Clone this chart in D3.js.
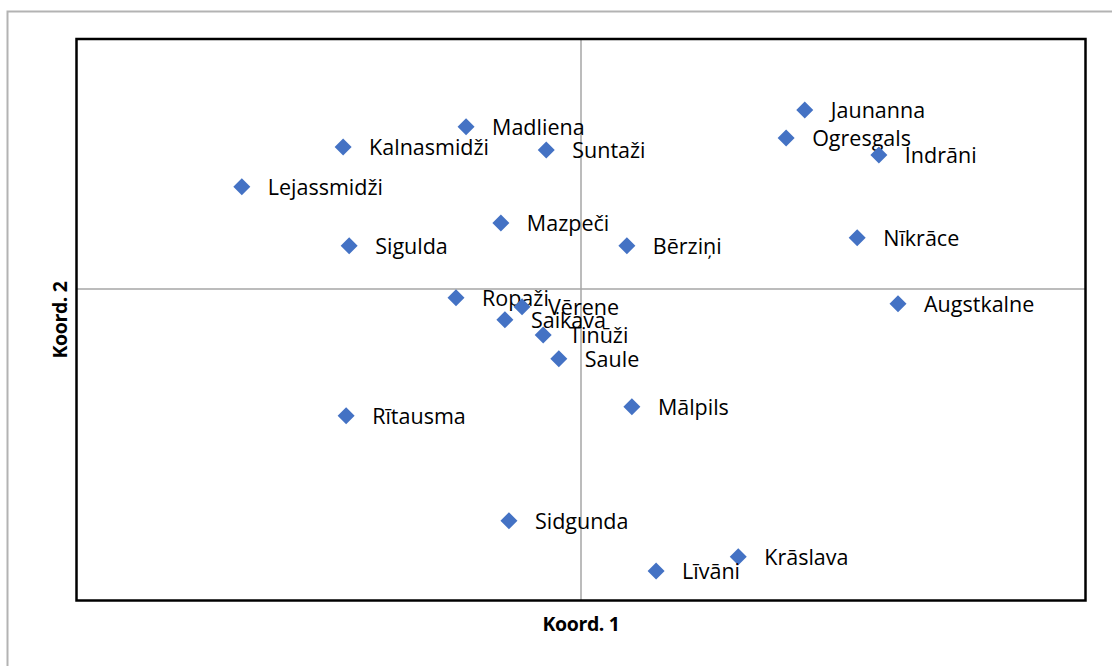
<!DOCTYPE html>
<meta charset="utf-8">
<style>
body { margin:0; background:#fff; }
text { font-family: "Open Sans", "Noto Sans", sans-serif; }
.lbl { font-size: 21.5px; fill:#000; }
.ttl { font-size: 19.5px; font-weight: bold; fill:#000; letter-spacing: -0.4px; }
</style>
<body>
<div id="chart"></div>
<script src="https://d3js.org/d3.v7.min.js"></script>
<script>
var width = 1112, height = 666;

var names = ["Jaunanna","Madliena","Ogresgals","Kalnasmidži","Suntaži","Indrāni","Lejassmidži",
  "Mazpeči","Sigulda","Bērziņi","Nīkrāce","Ropaži","Vērene","Augstkalne","Saikava","Tinūži",
  "Saule","Mālpils","Rītausma","Sidgunda","Krāslava","Līvāni"];
var koord1 = [0.444,-0.228,0.407,-0.472,-0.069,0.591,-0.673,
  -0.159,-0.460,0.091,0.548,-0.248,-0.117,0.629,-0.151,-0.075,
  -0.044,0.101,-0.466,-0.143,0.312,0.149];
var koord2 = [0.719,0.651,0.606,0.570,0.558,0.538,0.410,
  0.265,0.173,0.173,0.205,-0.036,-0.072,-0.060,-0.124,-0.185,
  -0.281,-0.474,-0.510,-0.932,-1.076,-1.133];

var plot = {left:77, right:1085, top:40, bottom:600};

var svg = d3.select("#chart").append("svg")
    .attr("width", width)
    .attr("height", height);

// outer chart border
svg.append("path")
  .attr("d", "M7.5," + height + "V11.5H" + width)
  .attr("fill", "none")
  .attr("stroke", "#b3b3b3")
  .attr("stroke-width", 2);

var x = d3.scaleLinear().domain([-1, 1]).range([plot.left, plot.right]);
var y = d3.scaleLinear().domain([-1.25, 1]).range([plot.bottom, plot.top]);

// zero lines
svg.append("line")
  .attr("x1", x(0)).attr("x2", x(0))
  .attr("y1", plot.top).attr("y2", plot.bottom)
  .attr("stroke", "#a6a6a6").attr("stroke-width", 1.5);
svg.append("line")
  .attr("x1", plot.left).attr("x2", plot.right)
  .attr("y1", y(0)).attr("y2", y(0))
  .attr("stroke", "#a6a6a6").attr("stroke-width", 1.5);

var data = names.map(function(n, i) { return {name:n, k1:koord1[i], k2:koord2[i]}; });

var pts = svg.append("g").selectAll("g")
  .data(data)
  .enter().append("g")
    .attr("transform", function(d) { return "translate(" + x(d.k1) + "," + y(d.k2) + ")"; });

pts.append("path")
  .attr("d", "M0,-8.5L8.5,0L0,8.5L-8.5,0Z")
  .attr("fill", "#4472c4");

pts.append("text")
  .attr("class", "lbl")
  .attr("x", 26)
  .attr("y", 8)
  .text(function(d) { return d.name; });

// plot frame
svg.append("rect")
  .attr("x", plot.left - 0.5).attr("y", plot.top - 1)
  .attr("width", plot.right - plot.left + 1)
  .attr("height", plot.bottom - plot.top + 1.5)
  .attr("fill", "none")
  .attr("stroke", "#000")
  .attr("stroke-width", 2.5);

svg.append("text")
  .attr("class", "ttl")
  .attr("x", x(0)).attr("y", 631)
  .attr("text-anchor", "middle")
  .text("Koord. 1");

svg.append("text")
  .attr("class", "ttl")
  .attr("transform", "translate(67," + (plot.top + plot.bottom) / 2 + ") rotate(-90)")
  .attr("text-anchor", "middle")
  .text("Koord. 2");
</script>
</body>
